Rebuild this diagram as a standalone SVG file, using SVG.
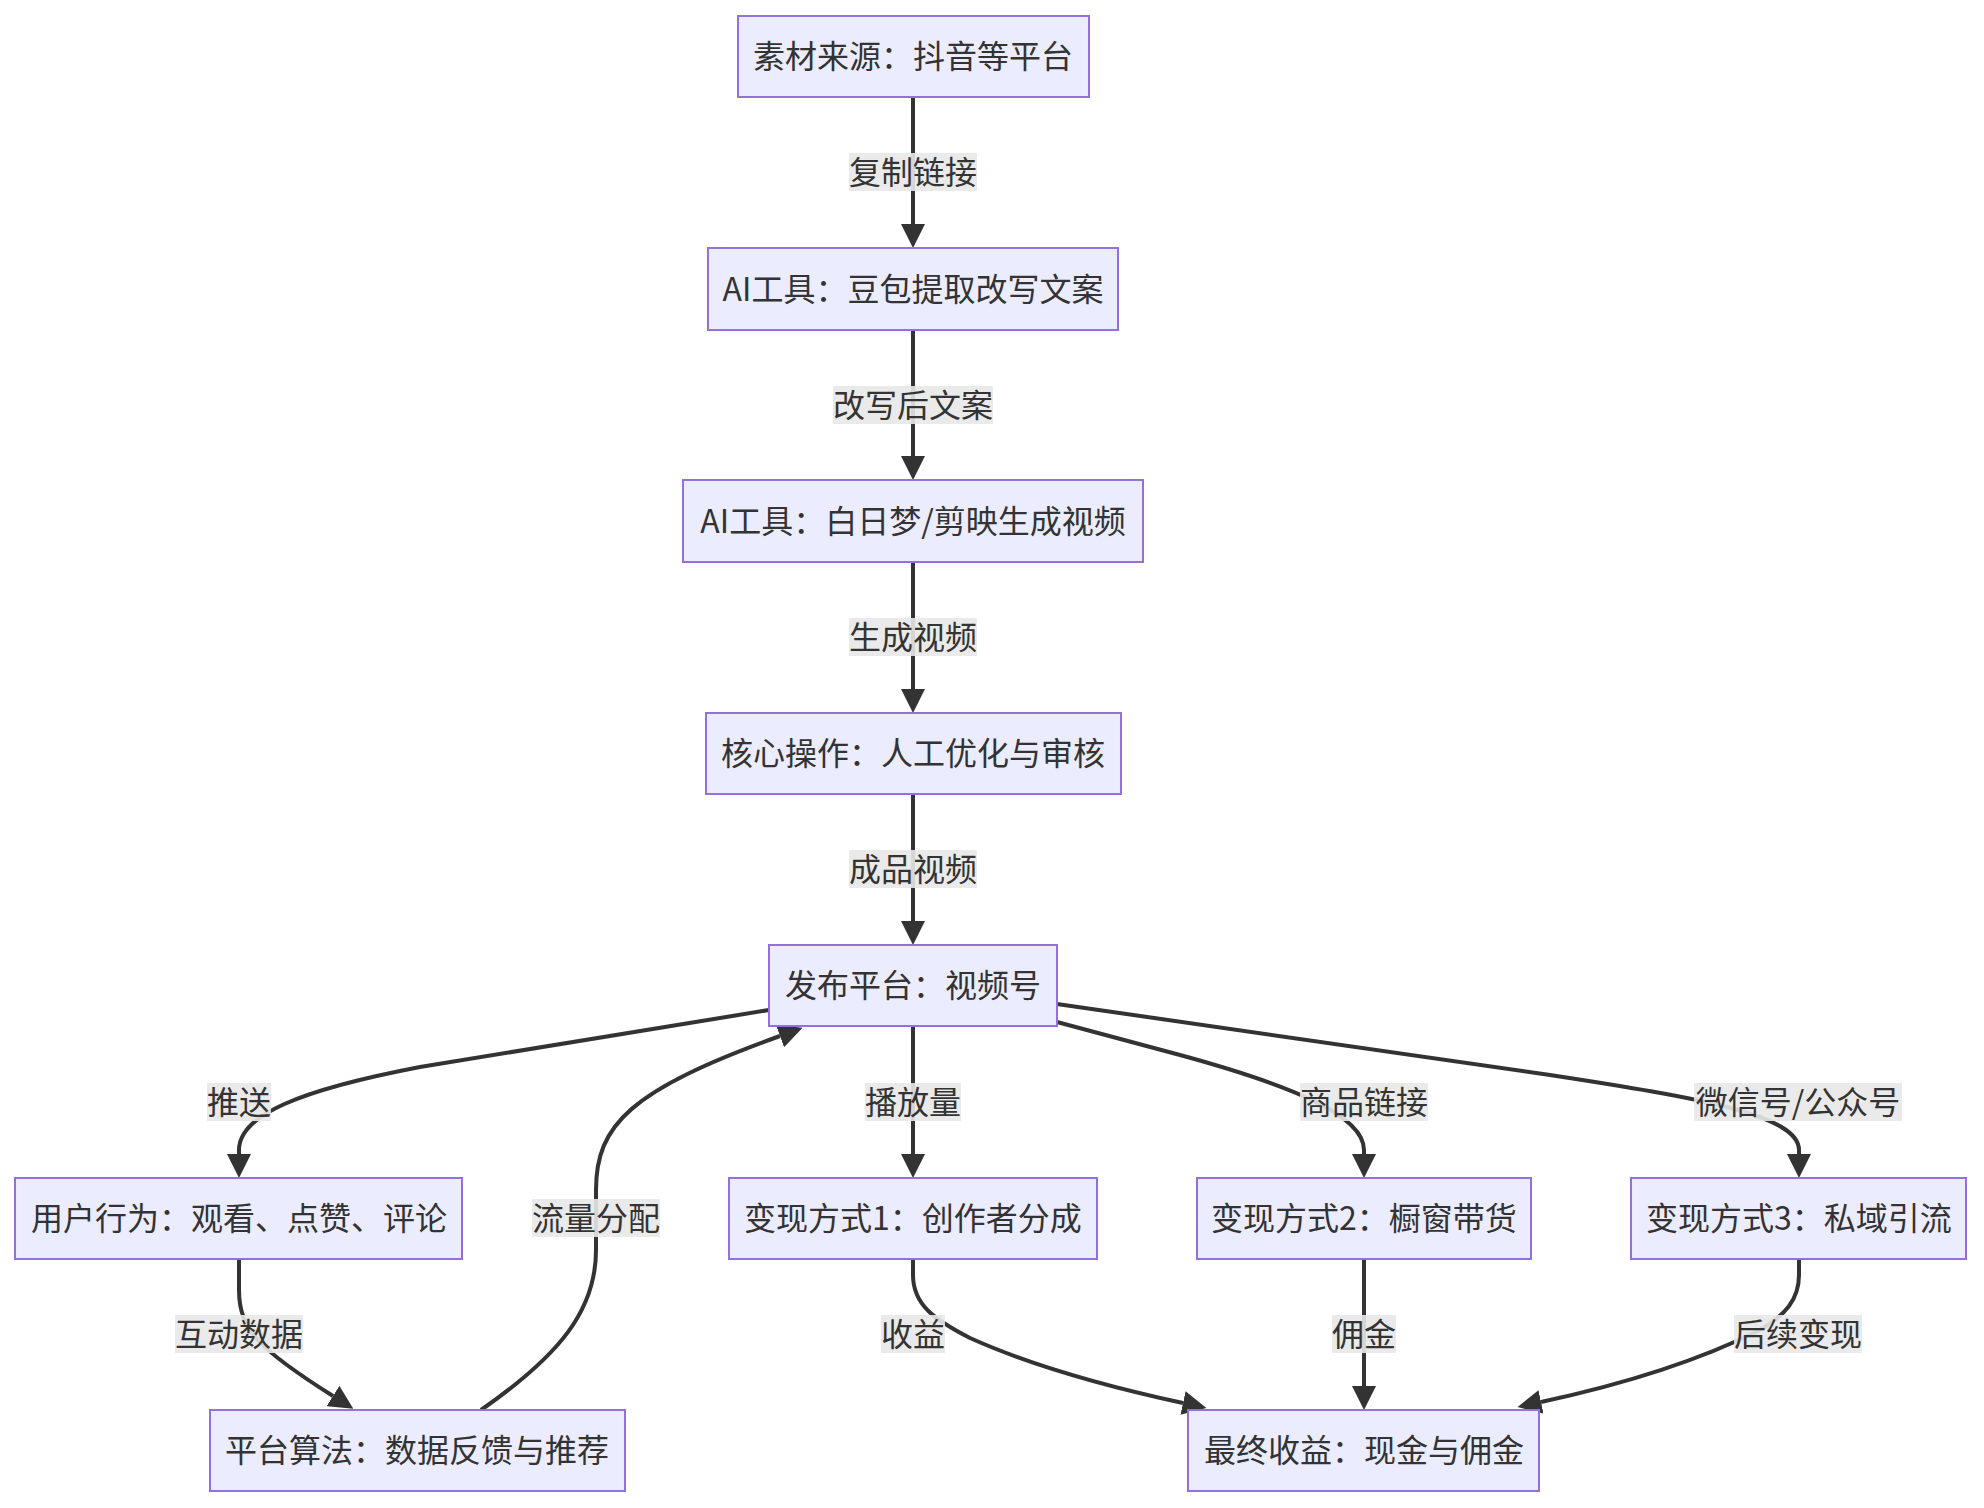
<svg xmlns="http://www.w3.org/2000/svg" width="1984" height="1508" viewBox="0 0 1984 1508">
<style>
.node rect{fill:#ECECFF;stroke:#9370DB;stroke-width:2}
.node text,.lbl text{font-family:"Noto Sans CJK SC","Noto Sans",sans-serif;font-size:32px;fill:#333;text-anchor:middle}
.edge{fill:none;stroke:#333;stroke-width:4;marker-end:url(#arr)}
.lbl rect{fill:#e8e8e8;fill-opacity:0.9}
</style>
<defs>
<marker id="arr" markerUnits="userSpaceOnUse" markerWidth="24" markerHeight="24" viewBox="0 0 24 24" refX="0" refY="12" orient="auto"><path d="M0,0 L24,12 L0,24 z" fill="#333"/></marker>
</defs>
<rect width="1984" height="1508" fill="#fff"/>
<g id="connectors">
<path class="edge" d="M913,97 L913,224"/>
<path class="edge" d="M913,330 L913,456"/>
<path class="edge" d="M913,562 L913,689"/>
<path class="edge" d="M913,794 L913,921"/>
<path class="edge" d="M913,1026 L913,1154"/>
<path class="edge" d="M769,1010 L420,1067 C300,1090 239,1115 239,1150 L239,1154"/>
<path class="edge" d="M1057,1022 L1180,1055 C1290,1085 1364,1115 1364,1150 L1364,1154"/>
<path class="edge" d="M1057,1004 L1550,1075 C1700,1098 1799,1115 1799,1150 L1799,1154"/>
<path class="edge" d="M239,1259 L239,1290 C239,1330 260,1350 333,1396"/>
<path class="edge" d="M481,1410 C560,1355 596,1310 596,1250 L596,1190 C596,1125 630,1090 780,1036"/>
<path class="edge" d="M913,1259 L913,1275 C913,1305 935,1320 970,1338 C1030,1365 1100,1385 1183,1403"/>
<path class="edge" d="M1364,1259 L1364,1386"/>
<path class="edge" d="M1799,1259 L1799,1275 C1799,1300 1785,1315 1760,1330 C1700,1360 1620,1385 1541,1402"/>
</g>
<g id="edge-labels">
<g class="lbl"><rect x="849" y="153" width="128" height="38"/><text x="913" y="184">复制链接</text></g>
<g class="lbl"><rect x="833" y="386" width="160" height="38"/><text x="913" y="417">改写后文案</text></g>
<g class="lbl"><rect x="849" y="618" width="128" height="38"/><text x="913" y="649">生成视频</text></g>
<g class="lbl"><rect x="849" y="850" width="128" height="38"/><text x="913" y="881">成品视频</text></g>
<g class="lbl"><rect x="207" y="1083" width="64" height="38"/><text x="239" y="1114">推送</text></g>
<g class="lbl"><rect x="865" y="1083" width="96" height="38"/><text x="913" y="1114">播放量</text></g>
<g class="lbl"><rect x="1300" y="1083" width="128" height="38"/><text x="1364" y="1114">商品链接</text></g>
<g class="lbl"><rect x="1694" y="1083" width="208" height="38"/><text x="1798" y="1114">微信号/公众号</text></g>
<g class="lbl"><rect x="532" y="1199" width="128" height="38"/><text x="596" y="1230">流量分配</text></g>
<g class="lbl"><rect x="175" y="1315" width="128" height="38"/><text x="239" y="1346">互动数据</text></g>
<g class="lbl"><rect x="881" y="1315" width="64" height="38"/><text x="913" y="1346">收益</text></g>
<g class="lbl"><rect x="1332" y="1315" width="64" height="38"/><text x="1364" y="1346">佣金</text></g>
<g class="lbl"><rect x="1734" y="1315" width="128" height="38"/><text x="1798" y="1346">后续变现</text></g>
</g>
<g id="n1" class="node"><rect x="738" y="16" width="351" height="81"/><text x="913" y="68">素材来源：抖音等平台</text></g>
<g id="n2" class="node"><rect x="708" y="248" width="410" height="82"/><text x="913" y="301">AI工具：豆包提取改写文案</text></g>
<g id="n3" class="node"><rect x="683" y="480" width="460" height="82"/><text x="913" y="533">AI工具：白日梦/剪映生成视频</text></g>
<g id="n4" class="node"><rect x="706" y="713" width="415" height="81"/><text x="913" y="765">核心操作：人工优化与审核</text></g>
<g id="n5" class="node"><rect x="769" y="945" width="288" height="81"/><text x="913" y="997">发布平台：视频号</text></g>
<g id="n6" class="node"><rect x="15" y="1178" width="447" height="81"/><text x="239" y="1230">用户行为：观看、点赞、评论</text></g>
<g id="n7" class="node"><rect x="729" y="1178" width="368" height="81"/><text x="913" y="1230">变现方式1：创作者分成</text></g>
<g id="n8" class="node"><rect x="1197" y="1178" width="334" height="81"/><text x="1364" y="1230">变现方式2：橱窗带货</text></g>
<g id="n9" class="node"><rect x="1631" y="1178" width="335" height="81"/><text x="1799" y="1230">变现方式3：私域引流</text></g>
<g id="n10" class="node"><rect x="210" y="1410" width="415" height="81"/><text x="417" y="1462">平台算法：数据反馈与推荐</text></g>
<g id="n11" class="node"><rect x="1188" y="1410" width="351" height="81"/><text x="1364" y="1462">最终收益：现金与佣金</text></g>
</svg>
